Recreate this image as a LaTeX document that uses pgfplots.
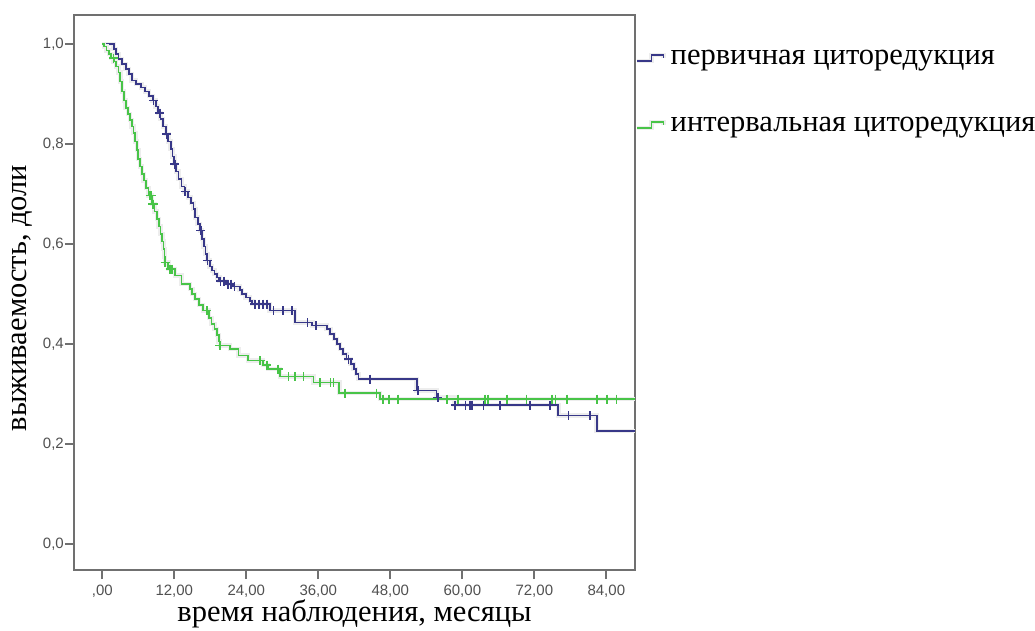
\documentclass[border=0pt]{standalone}
\usepackage{fontspec}
\setmainfont{Liberation Serif}
\newfontfamily\ticksans{Liberation Sans}
\newfontfamily\labserif{Liberation Serif}
\usepackage{pgfplots}
\pgfplotsset{compat=1.18}
\definecolor{kmblue}{RGB}{56,56,136}
\definecolor{kmgreen}{RGB}{72,196,72}
\definecolor{axgray}{RGB}{112,112,112}
\definecolor{labgray}{RGB}{80,80,80}

\pgfplotstableread{
t S
0 1
1.9 0.99
2.3 0.98
2.7 0.97
3.3 0.96
3.9 0.95
4.4 0.94
4.9 0.927
5.6 0.92
6.5 0.913
7.1 0.905
7.8 0.896
8.4 0.887
8.9 0.875
9.3 0.862
9.7 0.85
10.1 0.835
10.6 0.82
11.0 0.805
11.4 0.79
11.7 0.775
12.0 0.76
12.3 0.745
12.7 0.73
13.2 0.715
13.7 0.705
14.3 0.693
14.8 0.682
15.2 0.67
15.5 0.653
15.9 0.64
16.3 0.627
16.6 0.61
16.9 0.595
17.2 0.58
17.5 0.567
17.9 0.555
18.3 0.547
18.7 0.54
19.1 0.533
19.5 0.526
20.6 0.52
21.8 0.515
22.9 0.508
23.3 0.50
23.9 0.493
24.6 0.486
25.0 0.48
27.9 0.467
32.1 0.443
35.0 0.437
37.4 0.43
38.0 0.42
38.6 0.41
39.1 0.40
39.6 0.39
40.1 0.38
40.7 0.37
41.4 0.36
41.9 0.35
42.3 0.34
42.7 0.33
52.4 0.307
55.7 0.293
58.7 0.278
76.0 0.257
82.4 0.226
88.78 0.226
}\bluecurve

\pgfplotstableread{
t S
8.5 0.887
9.6 0.862
10.7 0.82
12.1 0.76
13.8 0.705
16.4 0.627
17.5 0.567
19.7 0.526
20.3 0.526
20.9 0.52
21.4 0.52
22.0 0.515
25.4 0.48
26.1 0.48
26.8 0.48
27.4 0.48
28.5 0.467
30.1 0.467
31.6 0.467
34.2 0.443
35.6 0.437
41.0 0.37
44.6 0.33
52.6 0.307
55.9 0.293
58.8 0.278
60.5 0.278
61.3 0.278
61.6 0.278
63.5 0.278
66.3 0.278
71.3 0.278
74.6 0.278
77.7 0.257
81.3 0.257
}\bluecens

\pgfplotstableread{
t S
0 1
0.3 0.995
0.7 0.987
1.1 0.98
1.5 0.972
1.9 0.965
2.3 0.955
2.7 0.943
3.0 0.925
3.3 0.905
3.6 0.887
3.9 0.872
4.3 0.86
4.6 0.848
4.9 0.835
5.2 0.822
5.5 0.805
5.75 0.788
6.0 0.77
6.3 0.755
6.6 0.74
6.9 0.727
7.3 0.712
7.7 0.697
8.3 0.68
8.7 0.665
9.1 0.65
9.4 0.635
9.7 0.62
10.0 0.605
10.2 0.59
10.35 0.575
10.45 0.563
11.0 0.55
12.1 0.537
13.2 0.52
14.6 0.51
15.0 0.50
15.45 0.49
16.1 0.478
16.8 0.467
17.8 0.452
18.2 0.44
18.7 0.43
19.1 0.418
19.4 0.405
19.6 0.397
21.3 0.39
22.7 0.377
24.3 0.367
26.8 0.358
27.6 0.35
29.6 0.335
35.2 0.323
39.5 0.302
46.3 0.29
88.78 0.29
}\greencurve

\pgfplotstableread{
t S
1.83 0.972
7.95 0.697
8.2 0.697
8.4 0.68
8.55 0.68
10.45 0.563
11.3 0.55
11.6 0.55
17.4 0.467
19.6 0.397
26.3 0.367
27.4 0.358
29.3 0.35
31.0 0.335
32.1 0.335
33.5 0.335
36.3 0.323
38.0 0.323
38.5 0.323
40.45 0.302
45.7 0.302
46.8 0.29
47.8 0.29
49.3 0.29
57.4 0.29
59.3 0.29
63.8 0.29
64.3 0.29
67.4 0.29
70.7 0.29
74.9 0.29
75.5 0.29
77.4 0.29
82.4 0.29
84.1 0.29
85.7 0.29
}\greencens

\begin{document}
\begin{tikzpicture}[x=1pt,y=1pt]
\useasboundingbox (0,0) rectangle (1035,-630);
\begin{axis}[
  at={(74pt,-570pt)}, anchor=south west,
  scale only axis, width=561pt, height=555pt,
  xmin=-4.72, xmax=88.78, ymin=-0.052, ymax=1.058,
  axis line style={axgray, line width=1.8pt},
  every tick/.style={axgray, line width=1.8pt},
  tick align=outside, tick pos=left,
  major tick length=9pt,
  xtick={0,12,24,36,48,60,72,84},
  xticklabels={{,00},{12,00},{24,00},{36,00},{48,00},{60,00},{72,00},{84,00}},
  ytick={0,0.2,0.4,0.6,0.8,1.0},
  yticklabels={{0,0},{0,2},{0,4},{0,6},{0,8},{1,0}},
  tick label style={font=\ticksans\fontsize{15}{15}\selectfont, text=labgray},
  xticklabel style={inner sep=3pt, yshift=-3pt},
  yticklabel style={inner sep=1pt},
  xlabel={время наблюдения, месяцы},
  ylabel={выживаемость, доли},
  xlabel style={at={(axis description cs:0.5,-0.079)}, anchor=center, font=\labserif\fontsize{30.5}{33}\selectfont},
  ylabel style={at={(axis description cs:-0.0927,0.49)}, anchor=center, font=\labserif\fontsize{30.5}{33}\selectfont},
  legend style={at={(axis description cs:1,0.862)}, anchor=west, draw=none, fill=none,
    inner sep=0pt, row sep=40pt, column sep=5pt,
    font=\labserif\fontsize{30.5}{33}\selectfont,
    nodes={inner sep=0pt, text height=20pt, text depth=7pt}},
  legend cell align=left,
  legend image code/.code={\draw[#1, line width=1.3pt] (0pt,-3pt) -- (14pt,-3pt) -- (14pt,3pt) -- (26pt,3pt) -- (26pt,0pt);},
  clip=false,
]
\addplot[const plot, kmblue, line width=1.7pt, preaction={draw, black!7, line width=4.5pt}] table[x=t,y=S] {\bluecurve};
\addlegendentry{первичная циторедукция}
\addplot[const plot, kmgreen, line width=1.7pt, preaction={draw, black!7, line width=4.5pt}] table[x=t,y=S] {\greencurve};
\addlegendentry{интервальная циторедукция}
\addplot[forget plot, only marks, mark=+, mark size=4.5pt, kmblue, line width=1.6pt] table[x=t,y=S] {\bluecens};
\addplot[forget plot, only marks, mark=+, mark size=4.5pt, kmgreen, line width=1.6pt] table[x=t,y=S] {\greencens};
\end{axis}
\end{tikzpicture}
\end{document}
